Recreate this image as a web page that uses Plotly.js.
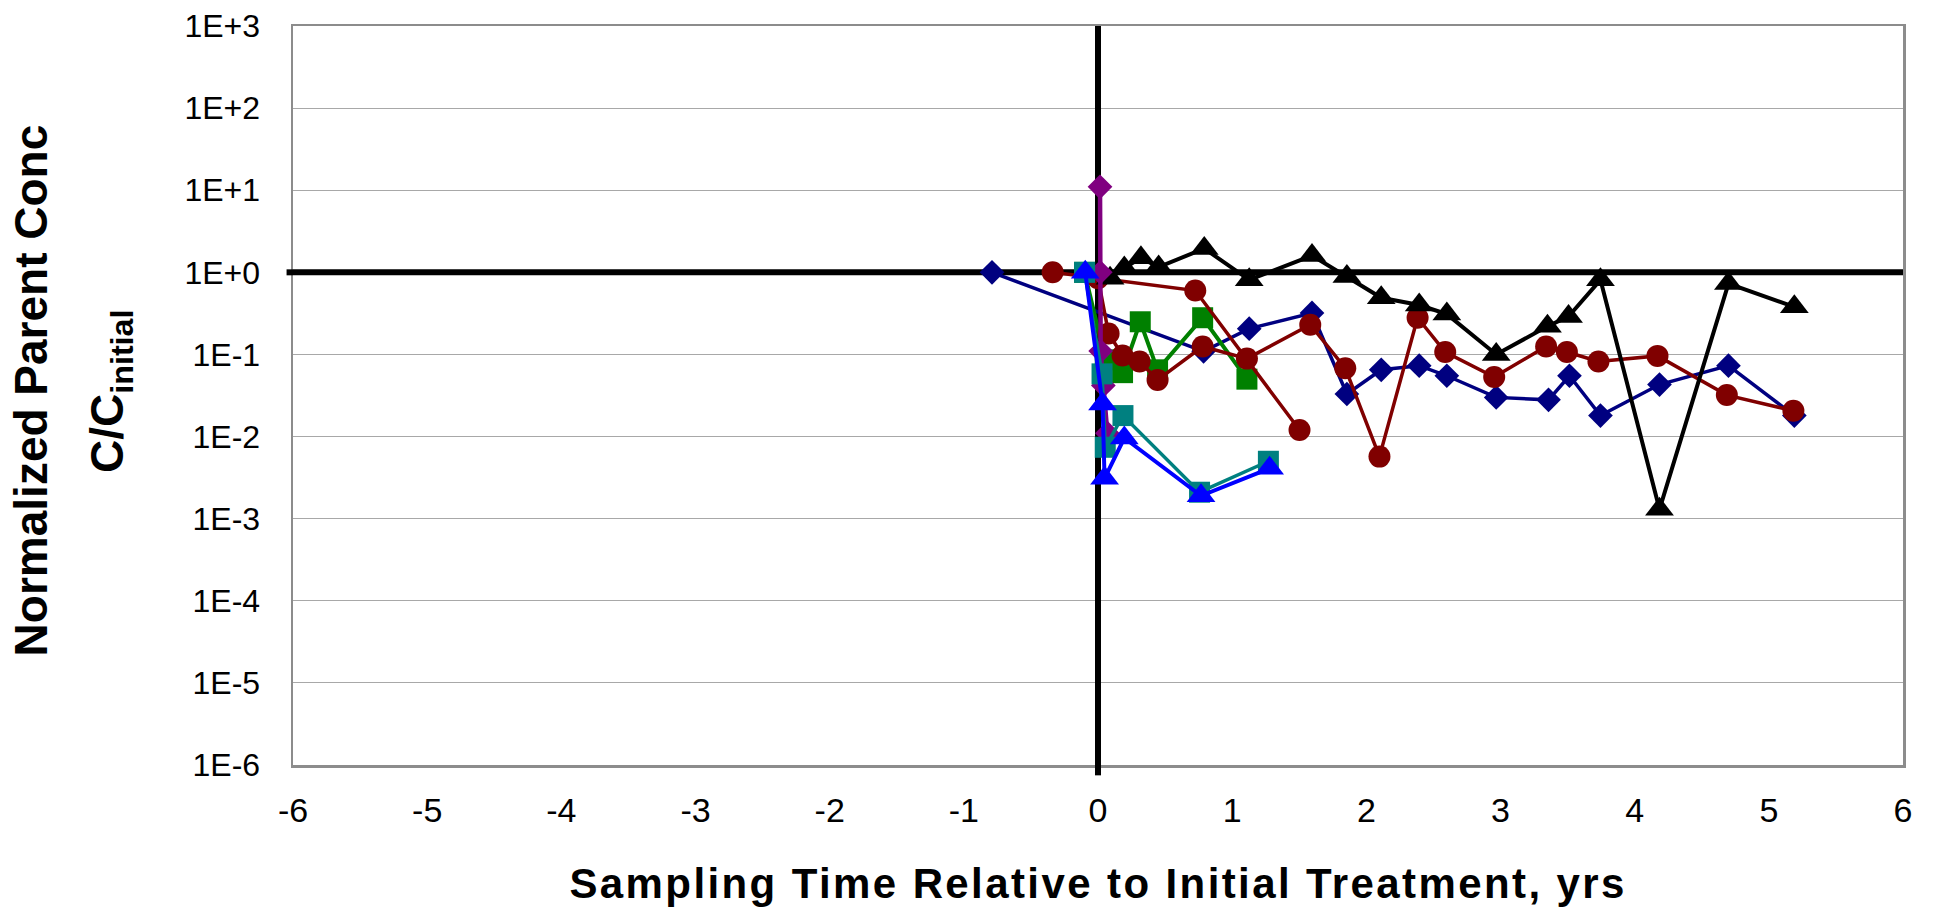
<!DOCTYPE html>
<html>
<head>
<meta charset="utf-8">
<script src="https://cdn.plot.ly/plotly-3.0.1.min.js"></script>
<style>
  html, body { margin: 0; padding: 0; background: #ffffff; }
  #chart { width: 1935px; height: 909px; }
  .annotation[data-index="2"] text { letter-spacing: 2.4px; }
</style>
</head>
<body>
<div id="chart"></div>
<script>
// ---- Data (years relative to initial treatment, C/Cinitial) ----
const navyX   = [-0.79, 0.787, 1.127, 1.595, 1.855, 2.111, 2.394, 2.6, 2.968, 3.358, 3.514, 3.745, 4.185, 4.699, 5.19];
const navyY   = [1.0, 0.109, 0.206, 0.32, 0.033, 0.065, 0.073, 0.055, 0.030, 0.028, 0.055, 0.018, 0.043, 0.073, 0.018];

const greenX  = [-0.1, 0.054, 0.183, 0.315, 0.444, 0.78, 1.11];
const greenY  = [1.0, 0.086, 0.06, 0.25, 0.065, 0.28, 0.05];

const redAX   = [0.0, 0.079, 0.183, 0.31, 0.444, 0.78, 1.11, 1.582, 1.843, 2.098, 2.382, 2.588, 2.953, 3.34, 3.495, 3.73, 4.17, 4.687, 5.183];
const redAY   = [0.85, 0.18, 0.097, 0.082, 0.049, 0.125, 0.089, 0.23, 0.068, 0.0057, 0.28, 0.107, 0.053, 0.125, 0.107, 0.082, 0.096, 0.032, 0.0206];

const redBX   = [-0.338, 0.725, 1.502];
const redBY   = [1.0, 0.60, 0.012];

const blackX  = [0.09, 0.196, 0.32, 0.452, 0.792, 1.127, 1.595, 1.855, 2.111, 2.394, 2.6, 2.968, 3.35, 3.507, 3.745, 4.185, 4.699, 5.19];
const blackY  = [0.85, 1.13, 1.5, 1.16, 1.95, 0.81, 1.6, 0.89, 0.49, 0.40, 0.31, 0.10, 0.22, 0.29, 0.81, 0.0013, 0.73, 0.38];

const purpleX = [0.015, 0.017, 0.02, 0.04, 0.07];
const purpleY = [11, 1.0, 0.11, 0.042, 0.011];

const tealX   = [-0.1, 0.03, 0.054, 0.186, 0.757, 1.27];
const tealY   = [1.0, 0.058, 0.0074, 0.018, 0.0021, 0.005];

const blueX   = [-0.095, 0.034, 0.049, 0.196, 0.768, 1.279];
const blueY   = [1.0, 0.025, 0.0031, 0.0096, 0.0019, 0.0041];

// ---- Axis ticks ----
const yTickVals = [1e-6, 1e-5, 1e-4, 1e-3, 1e-2, 1e-1, 1e0, 1e1, 1e2, 1e3];
const yTickText = ["1E-6", "1E-5", "1E-4", "1E-3", "1E-2", "1E-1", "1E+0", "1E+1", "1E+2", "1E+3"];
const xTickVals = [-6, -5, -4, -3, -2, -1, 0, 1, 2, 3, 4, 5, 6];
const xTickText = ["-6", "-5", "-4", "-3", "-2", "-1", "0", "1", "2", "3", "4", "5", "6"];

const FONT = "Liberation Sans, Arial, Helvetica, sans-serif";

function series(x, y, color, symbol, size, lw) {
  return {
    x: x, y: y, type: "scatter", mode: "lines+markers",
    line: { color: color, width: lw },
    marker: { color: color, symbol: symbol, size: size, line: { width: 0 } },
    showlegend: false, hoverinfo: "x+y"
  };
}

const traces = [
  series(navyX, navyY, "#000080", "diamond", 19, 3.5),
  series(greenX, greenY, "#008000", "square", 21, 4),
  series(redAX, redAY, "#800000", "circle", 22, 3.5),
  series(redBX, redBY, "#800000", "circle", 22, 3.5),
  series(blackX, blackY, "#000000", "triangle-up", 25, 4),
  series(purpleX, purpleY, "#800080", "diamond", 19, 4.5),
  series(tealX, tealY, "#008080", "square", 21, 3.5),
  series(blueX, blueY, "#0000FF", "triangle-up", 25, 4)
];

const layout = {
  width: 1935, height: 909,
  margin: { l: 293, r: 32, t: 26, b: 144, pad: 0 },
  paper_bgcolor: "#ffffff", plot_bgcolor: "#ffffff",
  font: { family: FONT, color: "#000000" },
  showlegend: false,
  xaxis: {
    range: [-6, 6], tickvals: xTickVals, ticktext: xTickText,
    showgrid: false, zeroline: false,
    showline: true, mirror: true, linecolor: "#8c8c8c", linewidth: 2.5,
    ticks: "", ticklabelstandoff: 14,
    tickfont: { family: FONT, size: 34, color: "#000000" }
  },
  yaxis: {
    type: "log", range: [-6, 3], tickvals: yTickVals, ticktext: yTickText,
    showgrid: true, gridcolor: "#a8a8a8", gridwidth: 1, zeroline: false,
    showline: true, mirror: true, linecolor: "#8c8c8c", linewidth: 2.5,
    ticks: "", ticklabelstandoff: 24,
    tickfont: { family: FONT, size: 32, color: "#000000" }
  },
  shapes: [
    // reference lines inside the plot, between grid and data
    { type: "line", xref: "x", yref: "y", x0: -6, x1: 6, y0: 1, y1: 1,
      line: { color: "#000000", width: 6 }, layer: "between" },
    { type: "line", xref: "x", yref: "y", x0: 0, x1: 0, y0: 1e-6, y1: 1e3,
      line: { color: "#000000", width: 6 }, layer: "between" },
    // short stubs poking outside the plot area
    { type: "line", xref: "paper", yref: "y", x0: -0.004, x1: 0, y0: 1, y1: 1,
      line: { color: "#000000", width: 6 }, layer: "above" },
    { type: "line", xref: "x", yref: "paper", x0: 0, x1: 0, y0: -0.014, y1: 0,
      line: { color: "#000000", width: 6 }, layer: "above" }
  ],
  annotations: [
    { text: "<b>Normalized Parent Conc</b>", xref: "paper", yref: "paper",
      x: -0.1627, y: 0.507, xanchor: "center", yanchor: "middle", textangle: -90,
      showarrow: false, font: { family: FONT, size: 46, color: "#000000" } },
    { text: "<b>C/C<sub>initial</sub></b>", xref: "paper", yref: "paper",
      x: -0.113, y: 0.505, xanchor: "center", yanchor: "middle", textangle: -90,
      showarrow: false, font: { family: FONT, size: 46, color: "#000000" } },
    { text: "<b>Sampling Time Relative to Initial Treatment, yrs</b>", xref: "paper", yref: "paper",
      x: 0.5, y: -0.161, xanchor: "center", yanchor: "middle",
      showarrow: false, font: { family: FONT, size: 42, color: "#000000" } }
  ]
};

Plotly.newPlot("chart", traces, layout, { displayModeBar: false, staticPlot: true });
</script>
</body>
</html>
